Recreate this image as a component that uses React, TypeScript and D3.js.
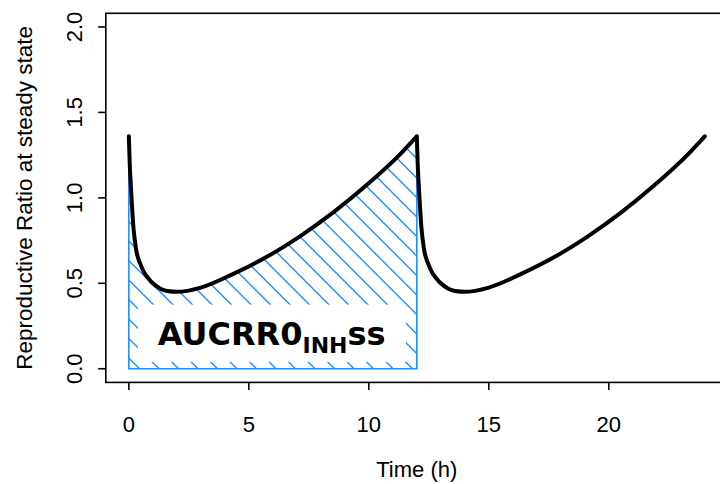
import React from "react";
import * as d3 from "d3";

// Reproductive ratio at steady state over two 12 h dosing intervals
const timeH: number[] = [
  0, 0.04, 0.1, 0.19, 0.3, 0.47, 0.65, 0.81, 1.0, 1.3, 1.6, 2.0, 3.0, 4.35,
  5.75, 7.13, 8.52, 9.91, 11.3, 12.0,
  12.04, 12.1, 12.19, 12.3, 12.47, 12.65, 12.81, 13.0, 13.3, 13.6, 14.0, 15.0,
  16.35, 17.75, 19.13, 20.52, 21.91, 23.3, 24.0,
];
const rrValues: number[] = [
  1.36, 1.19, 1.03, 0.83, 0.7, 0.616, 0.56, 0.53, 0.5, 0.47, 0.455, 0.45, 0.475,
  0.555, 0.655, 0.775, 0.915, 1.075, 1.255, 1.36,
  1.19, 1.03, 0.83, 0.7, 0.616, 0.56, 0.53, 0.5, 0.47, 0.455, 0.45, 0.475,
  0.555, 0.655, 0.775, 0.915, 1.075, 1.255, 1.36,
];

// shaded interval (first dosing interval)
const aucStart = 0;
const aucEnd = 12;
const doseInterval = 12;

const xTicks: number[] = [0, 5, 10, 15, 20];
const yTicks: number[] = [0, 0.5, 1.0, 1.5, 2.0];
const yTickLabels: string[] = ["0.0", "0.5", "1.0", "1.5", "2.0"];

const xTitle = "Time (h)";
const yTitle = "Reproductive Ratio at steady state";
const labelMain = "AUCRR0";
const labelSub = "INH";
const labelTail = "ss";
const labelAt = { t: 5.95, rr: 0.2 };
const labelBox = { t0: 0.38, t1: 11.55, rr0: 0.04, rr1: 0.375 };

const W = 720;
const H = 484;
const BLUE = "#1E90FF";
const FONT = "'Liberation Sans', Arial, Helvetica, sans-serif";

export default function App() {
  const xDomain: [number, number] = [0 - 0.04 * 24, 24 + 0.04 * 24];
  const yDomain: [number, number] = [0 - 0.04 * 2, 2 + 0.04 * 2];
  const x = d3.scaleLinear().domain(xDomain).range([105.8, 727.8]);
  const y = d3.scaleLinear().domain(yDomain).range([382.4, 13.3]);

  const pts: [number, number][] = timeH.map((t, i) => [t, rrValues[i]]);
  const aucPts = pts.filter(([t]) => t >= aucStart && t <= aucEnd);
  const seg1 = pts.filter(([t]) => t <= doseInterval);
  const seg2 = pts.filter(([t]) => t >= doseInterval);

  const line = d3
    .line<[number, number]>()
    .x((d) => x(d[0]))
    .y((d) => y(d[1]))
    .curve(d3.curveMonotoneX);

  const area = d3
    .area<[number, number]>()
    .x((d) => x(d[0]))
    .y0(() => y(0))
    .y1((d) => y(d[1]))
    .curve(d3.curveMonotoneX);

  // hatch lines "\" (x - y = c)
  const spacing = 19.5;
  const x0p = x(aucStart);
  const x1p = x(aucEnd);
  const ytop = y(1.5);
  const ybot = y(0);
  const c0 = 139.5 - ybot;
  const hatch: number[] = d3
    .range(-40, 40)
    .map((k) => c0 + k * spacing)
    .filter((c) => c + ybot > x0p - 5 && c + ytop < x1p + 5);

  const [px0, px1] = x.range();
  const [py0, py1] = y.range();

  return (
    <svg
      width={W}
      height={H}
      style={{ position: "absolute", left: 0, top: 0, background: "#fff" }}
    >
      <defs>
        <clipPath id="aucClip">
          <path d={area(aucPts) || ""} />
        </clipPath>
      </defs>
      <rect x={0} y={0} width={W} height={H} fill="#fff" />

      {/* hatch */}
      <g clipPath="url(#aucClip)" stroke={BLUE} strokeWidth={1.4}>
        {hatch.map((c, i) => (
          <line key={i} x1={c + ytop - 40} y1={ytop - 40} x2={c + ybot + 40} y2={ybot + 40} />
        ))}
      </g>
      <path d={area(aucPts) || ""} fill="none" stroke={BLUE} strokeWidth={1.6} />

      {/* label box */}
      <rect
        x={x(labelBox.t0)}
        y={y(labelBox.rr1)}
        width={x(labelBox.t1) - x(labelBox.t0)}
        height={y(labelBox.rr0) - y(labelBox.rr1)}
        fill="#fff"
      />
      <text
        x={x(labelAt.t)}
        y={y(labelAt.rr) + 10.5}
        textAnchor="middle"
        fontFamily="'DejaVu Sans', Verdana, sans-serif"
        fontWeight="bold"
        fontSize={32}
        fill="#000"
      >
        {labelMain}
        <tspan fontSize={22} dy={8}>
          {labelSub}
        </tspan>
        <tspan dy={-8}>{labelTail}</tspan>
      </text>

      {/* curve */}
      <path
        d={(line(seg1) || "") + (line(seg2) || "")}
        fill="none"
        stroke="#000"
        strokeWidth={4}
        strokeLinecap="round"
        strokeLinejoin="round"
      />

      {/* box */}
      <rect
        x={px0}
        y={py1}
        width={px1 - px0}
        height={py0 - py1}
        fill="none"
        stroke="#000"
        strokeWidth={1.6}
      />

      {/* x axis */}
      <g fontFamily={FONT} fontSize={22} fill="#000">
        {xTicks.map((t) => (
          <g key={t}>
            <line x1={x(t)} x2={x(t)} y1={py0} y2={py0 + 7.6} stroke="#000" strokeWidth={1.6} />
            <text x={x(t)} y={431.5} textAnchor="middle">
              {t}
            </text>
          </g>
        ))}
        <text x={(px0 + px1) / 2} y={477} textAnchor="middle">
          {xTitle}
        </text>
      </g>

      {/* y axis */}
      <g fontFamily={FONT} fontSize={22} fill="#000">
        {yTicks.map((v, i) => (
          <g key={v}>
            <line x1={px0 - 7.6} x2={px0} y1={y(v)} y2={y(v)} stroke="#000" strokeWidth={1.6} />
            <text
              transform={`translate(82,${y(v)}) rotate(-90)`}
              textAnchor="middle"
            >
              {yTickLabels[i]}
            </text>
          </g>
        ))}
        <text
          transform={`translate(32,${(py0 + py1) / 2}) rotate(-90)`}
          textAnchor="middle"
          fontSize={22.5}
        >
          {yTitle}
        </text>
      </g>
    </svg>
  );
}
